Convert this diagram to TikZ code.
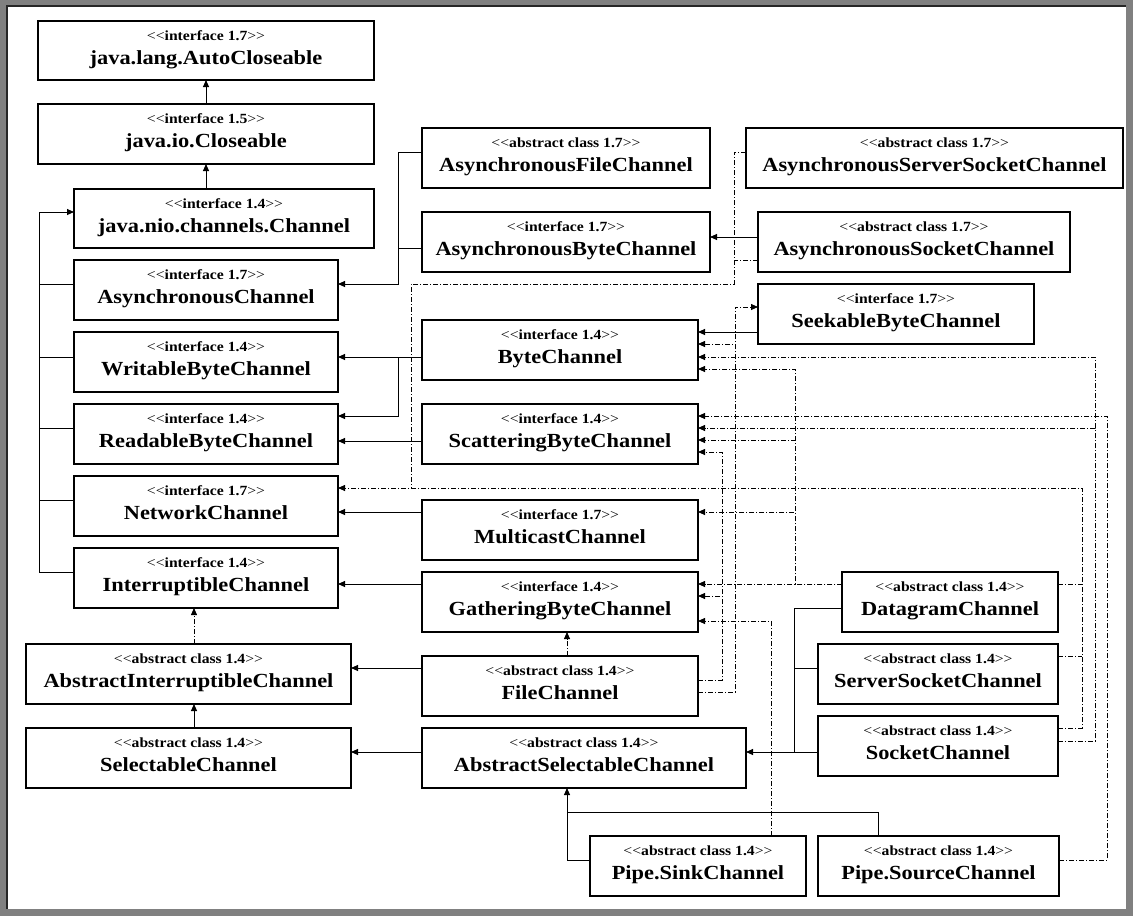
\documentclass[tikz,border=0pt]{standalone}
\usepackage{fontspec}
\newfontfamily\uml{Liberation Serif}[FakeStretch=1.12]
\usetikzlibrary{arrows.meta,calc}
\tikzset{
  box/.style={draw, line width=1.2pt, fill=white, inner sep=0pt, outer sep=0pt},
  stereo/.style={inner sep=0pt, font=\uml\fontsize{14}{16}\selectfont},
  ttl/.style={inner sep=0pt, font=\uml\fontsize{20}{24}\selectfont\bfseries},
  ext/.style={line width=0.9pt, -{Triangle[length=7pt,width=6pt]}},
  lnk/.style={line width=0.9pt},
  implline/.style={line width=0.8pt, dash pattern=on 5pt off 2pt on 1pt off 2pt},
  impl/.style={implline, -{Triangle[length=7pt,width=6pt]}},
}
\newcommand\umlbox[7]{%
  \node[box, minimum width={#4-#2}, minimum height={#5-#3}, anchor=north west] (#1) at (#2,#3) {};
  \node[stereo, anchor=base] (#1-s) at ($(#1.north)+(0,19.5)$) {<<\textbf{#6}>>};
  \node[ttl, anchor=base] (#1-t) at ($(#1.north)+(0,43)$) {#7};
}
\begin{document}
\begin{tikzpicture}[x=1pt,y=-1pt]
\useasboundingbox (0,0) rectangle (1133,916);
\fill[fill={rgb,255:red,128;green,128;blue,128}] (0,0) rectangle (1133,916);
\fill[white] (7,6) rectangle (1126,909);
\draw[line width=1.2pt,black!85] (7,909) -- (7,6) -- (1126,6);

% boxes
\umlbox{acl}{38}{21}{374}{80}{interface 1.7}{java.lang.AutoCloseable}
\umlbox{clo}{38}{104}{374}{164}{interface 1.5}{java.io.Closeable}
\umlbox{chn}{74}{189}{374}{248}{interface 1.4}{java.nio.channels.Channel}
\umlbox{asc}{74}{260}{338}{320}{interface 1.7}{AsynchronousChannel}
\umlbox{wbc}{74}{332}{338}{392}{interface 1.4}{WritableByteChannel}
\umlbox{rbc}{74}{404}{338}{464}{interface 1.4}{ReadableByteChannel}
\umlbox{nwc}{74}{476}{338}{536}{interface 1.7}{NetworkChannel}
\umlbox{irc}{74}{548}{338}{608}{interface 1.4}{InterruptibleChannel}
\umlbox{aic}{26}{644}{351}{704}{abstract class 1.4}{AbstractInterruptibleChannel}
\umlbox{sel}{26}{728}{351}{788}{abstract class 1.4}{SelectableChannel}
\umlbox{afc}{422}{128}{710}{188}{abstract class 1.7}{AsynchronousFileChannel}
\umlbox{abc}{422}{212}{710}{272}{interface 1.7}{AsynchronousByteChannel}
\umlbox{bc}{422}{320}{698}{380}{interface 1.4}{ByteChannel}
\umlbox{sbc}{422}{404}{698}{464}{interface 1.4}{ScatteringByteChannel}
\umlbox{mc}{422}{500}{698}{560}{interface 1.7}{MulticastChannel}
\umlbox{gbc}{422}{572}{698}{632}{interface 1.4}{GatheringByteChannel}
\umlbox{fc}{422}{656}{698}{716}{abstract class 1.4}{FileChannel}
\umlbox{asel}{422}{728}{746}{788}{abstract class 1.4}{AbstractSelectableChannel}
\umlbox{sink}{590}{836}{806}{896}{abstract class 1.4}{Pipe.SinkChannel}
\umlbox{src}{818}{836}{1059}{896}{abstract class 1.4}{Pipe.SourceChannel}
\umlbox{assc}{746}{128}{1123}{188}{abstract class 1.7}{AsynchronousServerSocketChannel}
\umlbox{aso}{758}{212}{1070}{272}{abstract class 1.7}{AsynchronousSocketChannel}
\umlbox{seek}{758}{284}{1034}{344}{interface 1.7}{SeekableByteChannel}
\umlbox{dc}{842}{572}{1058}{632}{abstract class 1.4}{DatagramChannel}
\umlbox{ssc}{818}{644}{1058}{704}{abstract class 1.4}{ServerSocketChannel}
\umlbox{sc}{818}{716}{1058}{776}{abstract class 1.4}{SocketChannel}

% solid connectors (extends)
\draw[ext] (clo.north) -- (acl.south);
\draw[ext] (chn.north -| clo.south) -- (clo.south);
\draw[ext] ($(irc.west)+(0,-6)$) -| (39,212) -- ($(chn.west)+(0,-6.5)$);
\draw[lnk] ($(asc.west)+(0,-6)$) -- ++(-35,0);
\draw[lnk] ($(wbc.west)+(0,-5)$) -- ++(-35,0);
\draw[lnk] ($(rbc.west)+(0,-6)$) -- ++(-35,0);
\draw[lnk] ($(nwc.west)+(0,-6)$) -- ++(-35,0);
\draw[ext] ($(afc.west)+(0,-6)$) -- ++(-24,0) |- ($(asc.east)+(0,-6)$);
\draw[lnk] ($(abc.west)+(0,6)$) -- ++(-24,0);
\draw[ext] ($(aso.west)+(0,-5)$) -- ($(abc.east)+(0,-5)$);
\draw[ext] ($(bc.west)+(0,7)$) -- ($(wbc.east)+(0,-5)$);
\draw[ext] ($(bc.west)+(0,7)$) -- ++(-24,0) |- ($(rbc.east)+(0,-18)$);
\draw[ext] ($(sbc.west)+(0,7)$) -- ($(rbc.east)+(0,7)$);
\draw[ext] ($(mc.west)+(0,-18)$) -- ($(nwc.east)+(0,6)$);
\draw[ext] ($(gbc.west)+(0,-18)$) -- ($(irc.east)+(0,6)$);
\draw[ext] ($(fc.west)+(0,-18)$) -- ($(aic.east)+(0,-6)$);
\draw[ext] ($(asel.west)+(0,-6)$) -- ($(sel.east)+(0,-6)$);
\coordinate (selup) at ($(sel.north)+(5.5,0)$);
\draw[ext] (selup) -- (selup |- aic.south);
\draw[ext] ($(seek.west)+(0,18)$) -- ($(bc.east)+(0,-18)$);
\draw[ext] ($(sc.west)+(0,6)$) -- ($(asel.east)+(0,-6)$);
\draw[lnk] ($(dc.west)+(0,6)$) -| ($(sc.west)+(-24,6)$);
\draw[lnk] ($(ssc.west)+(0,-6)$) -- ++(-24,0);
\draw[ext] ($(sink.west)+(0,-6)$) -| ($(asel.south)+(-17,0)$);
\draw[lnk] ($(src.north)+(-60.5,0)$) |- ($(asel.south)+(-17,24)$);

% dashed connectors (implements)
\coordinate (aicup) at ($(aic.north)+(5.5,0)$);
\draw[impl] (aicup) -- (aicup |- irc.south);
\draw[impl] ($(fc.north)+(7,0)$) -- ($(gbc.south)+(7,0)$);
\draw[implline] ($(assc.west)+(0,-6)$) -| (734,284) -| (411,488);
\draw[implline] ($(aso.west)+(0,18)$) -- ++(-24,0);
\draw[impl] ($(sc.east)+(0,-18)$) -| (1082,488) -- ($(nwc.east)+(0,-18)$);
\draw[implline] ($(dc.east)+(0,-18)$) -- ++(24,0);
\draw[implline] ($(ssc.east)+(0,-18)$) -- ++(24,0);
\draw[impl] ($(sc.east)+(0,-5)$) -| (1095,357) -- ($(bc.east)+(0,7)$);
\draw[impl] ($(sc.east)+(0,-5)$) -| (1095,428) -- ($(sbc.east)+(0,-6)$);
\draw[impl] ($(src.east)+(0,-6)$) -| (1107,416) -- ($(sbc.east)+(0,-18)$);
\draw[impl] ($(dc.west)+(0,-18)$) -- ($(gbc.east)+(0,-18)$);
\draw[impl] ($(dc.west)+(0,-18)$) -| (795,369) -- ($(bc.east)+(0,19)$);
\draw[impl] ($(dc.west)+(0,-18)$) -| (795,440) -- ($(sbc.east)+(0,6)$);
\draw[impl] ($(dc.west)+(0,-18)$) -| (795,512) -- ($(mc.east)+(0,-18)$);
\draw[impl] ($(fc.east)+(0,-6)$) -| (722,452) -- ($(sbc.east)+(0,18)$);
\draw[impl] ($(fc.east)+(0,-6)$) -| (722,596) -- ($(gbc.east)+(0,-6)$);
\draw[impl] ($(fc.east)+(0,6)$) -| (735,307) -- ($(seek.west)+(0,-7)$);
\draw[impl] ($(fc.east)+(0,6)$) -| (735,344) -- ($(bc.east)+(0,-6)$);
\draw[impl] ($(sink.north)+(73,0)$) |- ($(gbc.east)+(0,19)$);
\end{tikzpicture}
\end{document}
